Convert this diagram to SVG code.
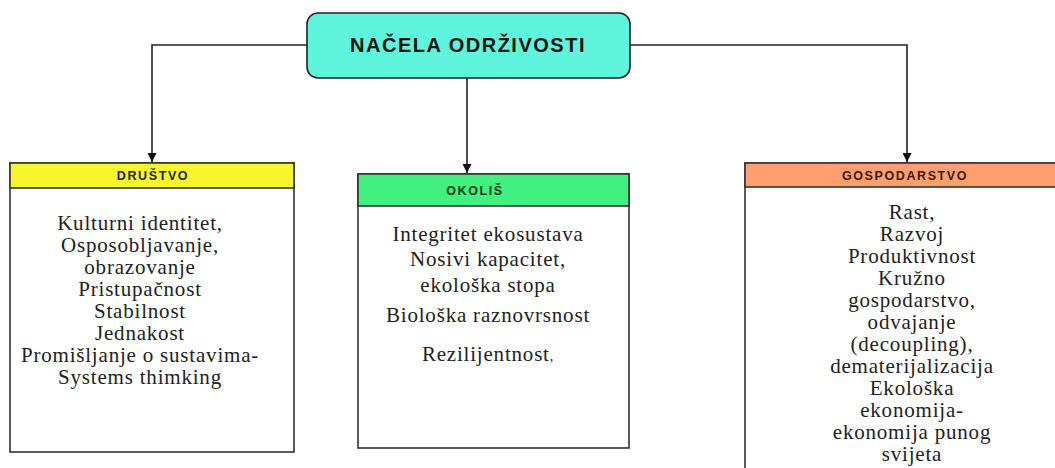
<svg xmlns="http://www.w3.org/2000/svg" width="1055" height="468" viewBox="0 0 1055 468">
<style>
.box{fill:#fff;stroke:#333;stroke-width:1.6}
.hdr{stroke:#333;stroke-width:1.6}
.hl{font-family:"Liberation Sans",Arial,sans-serif;font-weight:bold;font-size:12.5px;letter-spacing:1.6px;text-anchor:middle}
.body{font-family:"Liberation Serif","Times New Roman",serif;font-size:21px;letter-spacing:0.8px;fill:#222;text-anchor:middle}
.conn{fill:none;stroke:#222;stroke-width:1.6}
</style>
<defs>
<marker id="arr" viewBox="0 0 10 10" refX="10" refY="5" markerWidth="9" markerHeight="9" markerUnits="userSpaceOnUse" orient="auto">
<path d="M0,0 L10,5 L0,10 Z" fill="#111"/>
</marker>
</defs>
<rect width="1055" height="468" fill="#fff"/>
<g id="connectors">
<path class="conn" d="M307,45 H152 V162" marker-end="url(#arr)"/>
<path class="conn" d="M467,78 V173" marker-end="url(#arr)"/>
<path class="conn" d="M630,45 H907 V162" marker-end="url(#arr)"/>
</g>
<g id="root">
<rect x="307" y="13" width="323" height="65" rx="11" fill="#5ef5dc" stroke="#222" stroke-width="1.6"/>
<text x="468" y="52" font-family="'Liberation Sans',Arial,sans-serif" font-weight="bold" font-size="20" letter-spacing="1.5" text-anchor="middle" fill="#111">NAČELA ODRŽIVOSTI</text>
</g>
<g id="drustvo">
<rect class="box" x="10" y="163" width="284" height="289"/>
<rect class="hdr" x="10" y="163" width="284" height="25" fill="#f7f52c"/>
<text class="hl" x="153" y="180" fill="#222">DRUŠTVO</text>
<text class="body" x="140" y="230">Kulturni identitet,</text>
<text class="body" x="140" y="252">Osposobljavanje,</text>
<text class="body" x="140" y="274">obrazovanje</text>
<text class="body" x="140" y="296">Pristupačnost</text>
<text class="body" x="140" y="318">Stabilnost</text>
<text class="body" x="140" y="340">Jednakost</text>
<text class="body" x="140" y="362">Promišljanje o sustavima-</text>
<text class="body" x="140" y="384">Systems thimking</text>
</g>
<g id="okolis">
<rect class="box" x="358" y="174" width="271" height="274"/>
<rect class="hdr" x="358" y="174" width="271" height="32" fill="#41f07f"/>
<text class="hl" x="475" y="195" fill="#0d3a1a">OKOLIŠ</text>
<text class="body" x="488" y="241">Integritet ekosustava</text>
<text class="body" x="488" y="266">Nosivi kapacitet,</text>
<text class="body" x="488" y="292">ekološka stopa</text>
<text class="body" x="488" y="322">Biološka raznovrsnost</text>
<text class="body" x="488" y="361">Rezilijentnost<tspan font-size="14">,</tspan></text>
</g>
<g id="gospodarstvo">
<rect class="box" x="745" y="163" width="320" height="320"/>
<rect class="hdr" x="745" y="163" width="320" height="24" fill="#ff9f70"/>
<text class="hl" x="905" y="180" fill="#3a1a0a">GOSPODARSTVO</text>
<text class="body" x="912" y="219">Rast,</text>
<text class="body" x="912" y="241">Razvoj</text>
<text class="body" x="912" y="263">Produktivnost</text>
<text class="body" x="912" y="285">Kružno</text>
<text class="body" x="912" y="307">gospodarstvo,</text>
<text class="body" x="912" y="329">odvajanje</text>
<text class="body" x="912" y="351">(decoupling),</text>
<text class="body" x="912" y="373">dematerijalizacija</text>
<text class="body" x="912" y="395">Ekološka</text>
<text class="body" x="912" y="417">ekonomija-</text>
<text class="body" x="912" y="439">ekonomija punog</text>
<text class="body" x="912" y="461">svijeta</text>
</g>
</svg>
